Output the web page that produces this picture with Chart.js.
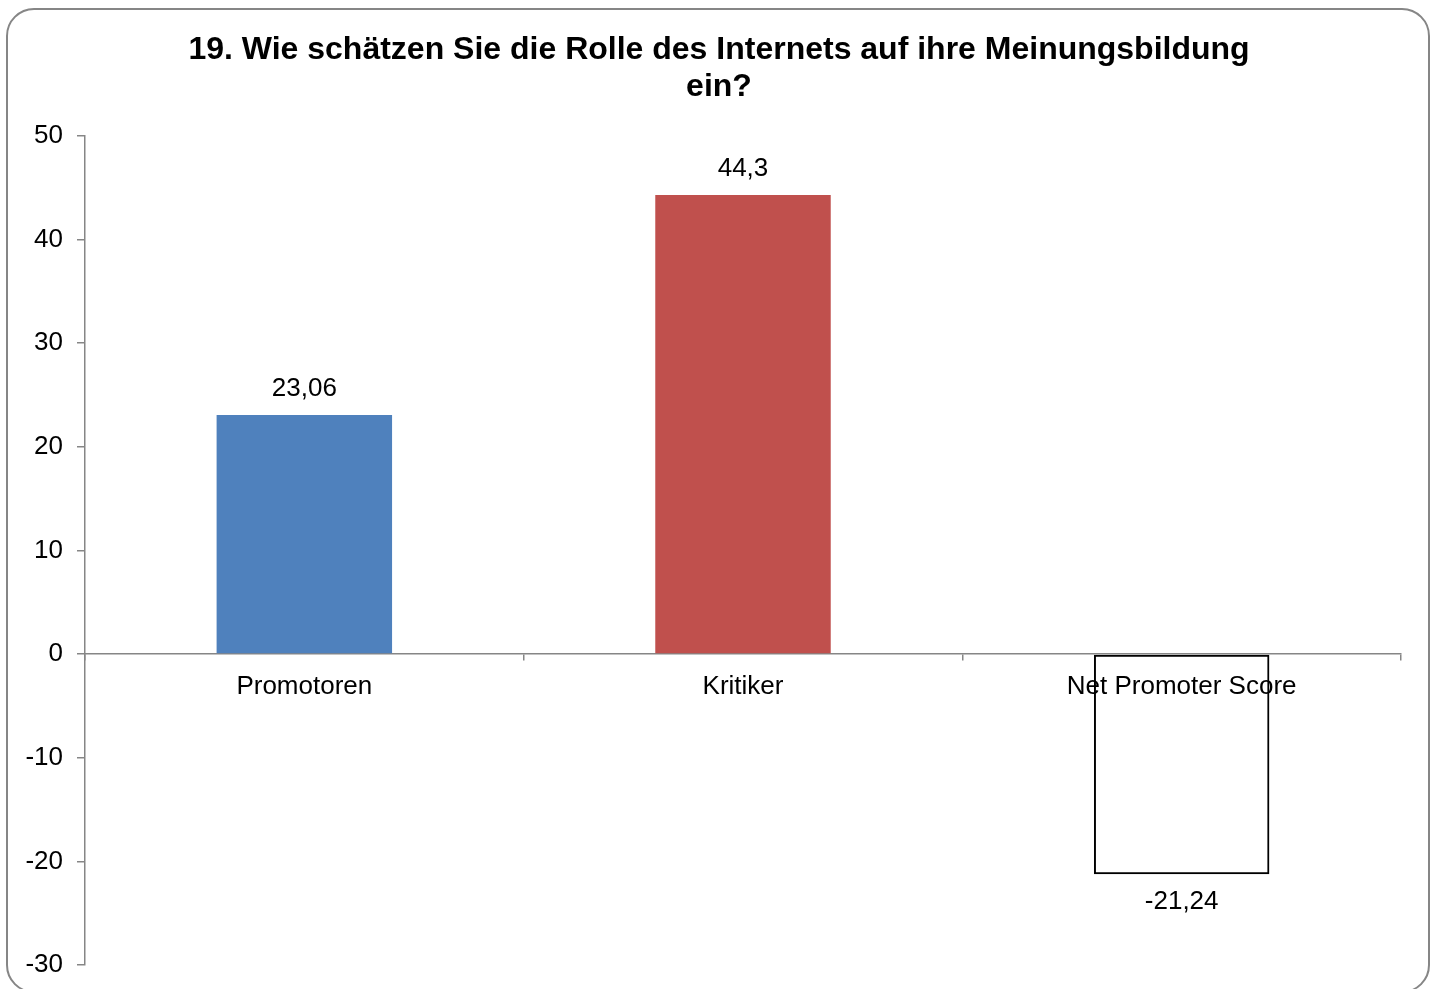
<!DOCTYPE html>
<html>
<head>
<meta charset="utf-8">
<script src="https://cdn.jsdelivr.net/npm/chart.js@4/dist/chart.umd.min.js"></script>
<style>
  body { margin: 0; background: #fff; }
  #frame {
    position: absolute; left: 6px; top: 8px; width: 1424px; height: 985px;
    box-sizing: border-box; border: 2px solid #868686; border-radius: 28px;
  }
  #chart { position: absolute; left: 0; top: 0; }
</style>
</head>
<body>
<div id="frame"></div>
<canvas id="chart" width="1438" height="989"></canvas>
<script>
let categories = ["Promotoren", "Kritiker", "Net Promoter Score"];
let values = [23.06, 44.3, -21.24];
let valueText = values.map((v) => String(v).replace(".", ","));

let barColors = ["#4F81BD", "#C0504D", "rgba(0,0,0,0)"];
let barBorders = ["rgba(0,0,0,0)", "rgba(0,0,0,0)", "#000000"];
let barBorderWidths = [0, 0, 2];

let font = '"Liberation Sans", Arial, sans-serif';

// draws the value above or below each bar
let valueLabels = {
  id: "valueLabels",
  afterDatasetsDraw(chart) {
    let ctx = chart.ctx;
    let meta = chart.getDatasetMeta(0);
    ctx.save();
    ctx.font = "26px " + font;
    ctx.fillStyle = "#000";
    ctx.textAlign = "center";
    ctx.textBaseline = "middle";
    meta.data.forEach((bar, i) => {
      let y = values[i] >= 0 ? bar.y - 26 : bar.y + 28;
      ctx.fillText(valueText[i], bar.x, y);
    });
    ctx.restore();
  },
};

new Chart("chart", {
  type: "bar",
  data: {
    labels: categories,
    datasets: [
      {
        data: values,
        backgroundColor: barColors,
        borderColor: barBorders,
        borderWidth: barBorderWidths,
        borderSkipped: false,
        barPercentage: 0.4,
        categoryPercentage: 1,
      },
    ],
  },
  options: {
    responsive: false,
    animation: false,
    layout: { padding: { left: 0, right: 0, top: 10, bottom: 24 } },
    plugins: {
      legend: { display: false },
      tooltip: { enabled: false },
      title: {
        display: true,
        text: ["19. Wie schätzen Sie die Rolle des Internets auf ihre Meinungsbildung", "ein?"],
        color: "#000",
        font: { family: font, size: 32, weight: "bold", lineHeight: 1.17 },
        padding: { top: 21, bottom: 30 },
      },
    },
    scales: {
      x: {
        position: { y: 0 },
        grid: {
          offset: true,
          drawOnChartArea: false,
          drawTicks: true,
          tickLength: 6,
          color: "#868686",
          lineWidth: 1.5,
        },
        border: { display: true, color: "#868686", width: 1.5 },
        ticks: {
          color: "#000",
          font: { family: font, size: 26 },
          padding: 11,
          maxRotation: 0,
          autoSkip: false,
        },
      },
      y: {
        min: -30,
        max: 50,
        afterFit: (s) => {
          s.width = 85;
          s.paddingBottom = 0;
        },
        grid: {
          drawOnChartArea: false,
          drawTicks: true,
          tickLength: 8,
          color: "#868686",
          lineWidth: 1.5,
        },
        border: { display: true, color: "#868686", width: 1.5 },
        ticks: {
          stepSize: 10,
          color: "#000",
          font: { family: font, size: 26 },
          padding: 14,
        },
      },
      // empty right axis, only keeps space on the right of the plot
      yRight: {
        position: "right",
        afterFit: (s) => { s.width = 37; },
        grid: { display: false },
        border: { display: false },
        ticks: { display: false },
      },
    },
  },
  plugins: [valueLabels],
});
</script>
</body>
</html>
